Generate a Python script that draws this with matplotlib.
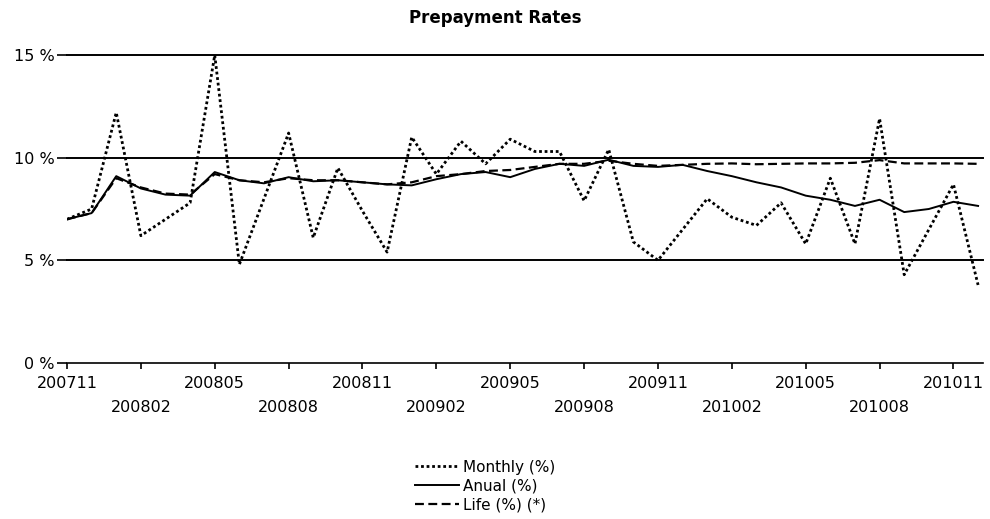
import matplotlib
matplotlib.use("Agg")
import matplotlib.pyplot as plt
from matplotlib.lines import Line2D

# Monthly periods from 200711 to 201012
start_year, start_month, n_periods = 2007, 11, 38
periods = []
y, m = start_year, start_month
for _ in range(n_periods):
    periods.append(f"{y}{m:02d}")
    m += 1
    if m > 12:
        m, y = 1, y + 1

monthly = [7.0, 7.5, 12.2, 6.2, 7.0, 7.8, 15.0, 4.8, 8.0, 11.2, 6.1, 9.5,
           7.4, 5.4, 11.0, 9.2, 10.8, 9.7, 10.9, 10.3, 10.3, 7.9, 10.4, 5.9,
           5.0, 6.5, 8.0, 7.1, 6.7, 7.8, 5.8, 9.0, 5.8, 11.9, 4.3, 6.5,
           8.7, 3.8]
anual = [7.0, 7.3, 9.1, 8.5, 8.2, 8.15, 9.3, 8.9, 8.75, 9.05, 8.85, 8.9,
         8.8, 8.7, 8.65, 8.95, 9.2, 9.3, 9.05, 9.45, 9.7, 9.6, 9.9, 9.6,
         9.55, 9.65, 9.35, 9.1, 8.8, 8.55, 8.15, 7.95, 7.65, 7.95, 7.35, 7.5,
         7.85, 7.65]
life = [7.0, 7.3, 9.0, 8.55, 8.25, 8.2, 9.2, 8.9, 8.8, 9.0, 8.9, 8.9,
        8.8, 8.7, 8.8, 9.1, 9.2, 9.35, 9.4, 9.55, 9.7, 9.7, 9.85, 9.7,
        9.6, 9.65, 9.7, 9.72, 9.68, 9.7, 9.72, 9.72, 9.75, 9.88, 9.72, 9.72,
        9.72, 9.7]

y_ticks = [0, 5, 10, 15]
y_tick_labels = ["0 %", "5 %", "10 %", "15 %"]

plt.rcParams['font.family'] = ['DejaVu Sans']

fig = plt.figure(figsize=(9.90, 5.19), dpi=100)
ax = fig.add_axes([67 / 990, 1 - 363 / 519, 916 / 990, 308 / 519])

xs = list(range(n_periods))

for level in y_ticks[1:]:
    ax.axhline(level, color="black", lw=1.4, clip_on=False, zorder=1)

ax.plot(xs, monthly, color="black", lw=2.0, linestyle=(0, (1, 1)), zorder=3)
ax.plot(xs, anual, color="black", lw=1.4, linestyle="-", zorder=3)
ax.plot(xs, life, color="black", lw=1.6, linestyle=(0, (4, 2)), zorder=3)

ax.set_xlim(0, 37.2)
ax.set_ylim(0, 15)

for side in ("top", "right", "left"):
    ax.spines[side].set_visible(False)
ax.spines["bottom"].set_linewidth(1.2)

ax.set_yticks(y_ticks)
ax.set_yticklabels(y_tick_labels, fontsize=11.5)
ax.tick_params(axis="y", length=7, width=1.2, pad=2, colors="black")

# Alternating x labels on two rows
major_idx = list(range(0, n_periods, 6))
minor_idx = list(range(3, n_periods, 6))
ax.set_xticks(major_idx)
ax.set_xticklabels([periods[i] for i in major_idx], fontsize=11.5)
ax.set_xticks(minor_idx, minor=True)
ax.set_xticklabels([periods[i] for i in minor_idx], minor=True, fontsize=11.5)
ax.tick_params(axis="x", which="major", length=4, width=1.2, pad=5)
ax.tick_params(axis="x", which="minor", length=4, width=1.2, pad=23)

fig.text(0.5, 1 - 18 / 519, "Prepayment Rates", ha="center", va="center",
         fontsize=12, fontweight="bold")

handles = [
    Line2D([], [], color="black", lw=2.0, linestyle=(0, (1, 1))),
    Line2D([], [], color="black", lw=1.4, linestyle="-"),
    Line2D([], [], color="black", lw=1.6, linestyle=(0, (4, 2))),
]
labels = ["Monthly (%)", "Anual (%)", "Life (%) (*)"]
fig.legend(handles, labels, loc="center", bbox_to_anchor=(0.49, 1 - 486 / 519),
           frameon=False, fontsize=11, handlelength=2.9, handletextpad=0.3,
           labelspacing=0.25, borderpad=0)

fig.savefig("out.png", dpi=100)
